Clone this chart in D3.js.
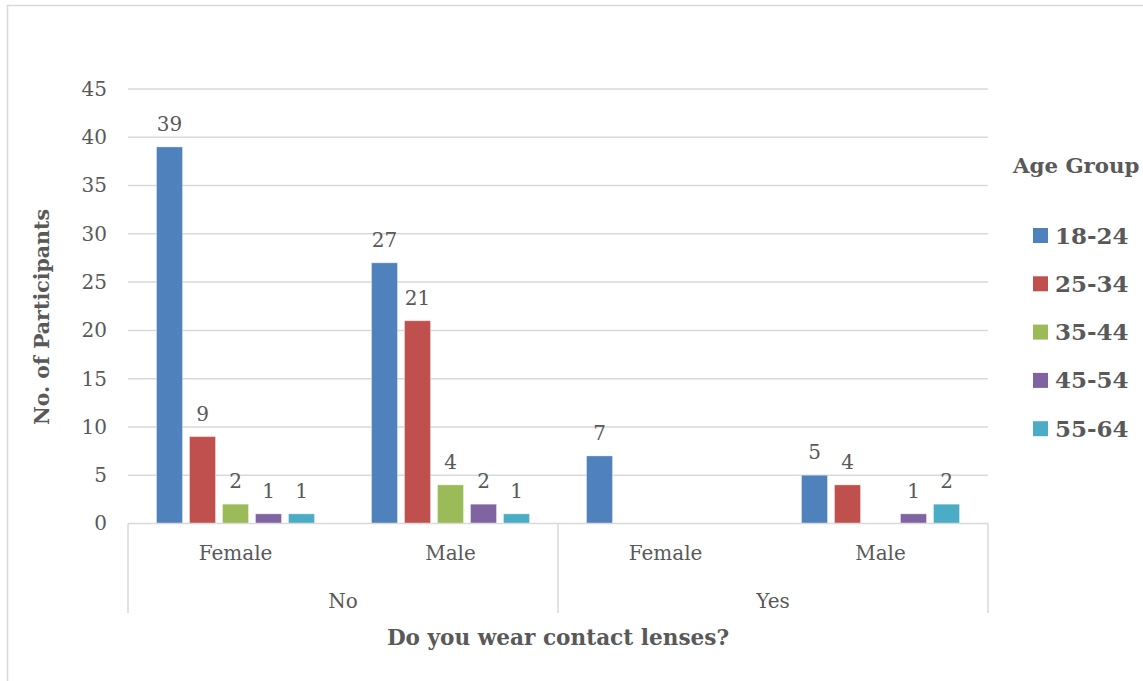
<!DOCTYPE html>
<html>
<head>
<meta charset="utf-8">
<script src="https://cdn.jsdelivr.net/npm/d3@7"></script>
<style>
  html, body { margin: 0; padding: 0; background: #fff; }
  svg { display: block; }
  text { font-family: "DejaVu Serif", serif; fill: #595959; }
</style>
</head>
<body>
<svg id="chart" width="1143" height="681"></svg>
<script>
// Contact lens survey: participants by answer, gender and age group
const answers = ["No", "Yes"];
const genders = ["Female", "Male"];
const ageGroups = ["18-24", "25-34", "35-44", "45-54", "55-64"];
const colors = ["#4f81bd", "#c0504d", "#9bbb59", "#8064a2", "#4bacc6"];
// counts per category (answer / gender), in ageGroups order; null = no bar
const noFemale  = [39, 9, 2, 1, 1];
const noMale    = [27, 21, 4, 2, 1];
const yesFemale = [7, null, null, null, null];
const yesMale   = [5, 4, null, 1, 2];
const yTicks = [0, 5, 10, 15, 20, 25, 30, 35, 40, 45];

const categories = [
  { answer: "No",  gender: "Female", values: noFemale },
  { answer: "No",  gender: "Male",   values: noMale },
  { answer: "Yes", gender: "Female", values: yesFemale },
  { answer: "Yes", gender: "Male",   values: yesMale }
];

const svg = d3.select("#chart");
const plotLeft = 128, plotRight = 988, plotTop = 89, plotBottom = 523.5;

// outer frame
svg.append("rect")
  .attr("x", 7.5).attr("y", 5.5).attr("width", 1160).attr("height", 700)
  .attr("fill", "none").attr("stroke", "#d9d9d9").attr("stroke-width", 1.5);

const y = d3.scaleLinear().domain([0, 45]).range([plotBottom, plotTop]);
const x0 = d3.scaleBand().domain(d3.range(categories.length)).range([plotLeft, plotRight]);
const step = 33, barW = 26;
const x1 = d3.scaleBand().domain(ageGroups)
  .range([(x0.bandwidth() - step * ageGroups.length) / 2, (x0.bandwidth() + step * ageGroups.length) / 2]);

// gridlines
svg.append("g").selectAll("line").data(yTicks.filter(t => t > 0)).join("line")
  .attr("x1", plotLeft).attr("x2", plotRight)
  .attr("y1", d => y(d)).attr("y2", d => y(d))
  .attr("stroke", "#d9d9d9").attr("stroke-width", 1.5);

// y axis labels
const yAxis = d3.axisLeft(y).tickValues(yTicks).tickSize(0).tickPadding(21);
const gy = svg.append("g").attr("transform", `translate(${plotLeft},0)`).call(yAxis);
gy.select(".domain").remove();
gy.selectAll("text").attr("font-size", 20).attr("fill", "#595959")
  .attr("font-family", "DejaVu Serif, serif");

// bars
const groups = svg.append("g").selectAll("g").data(categories).join("g")
  .attr("transform", (d, i) => `translate(${x0(i)},0)`);

groups.each(function (cat) {
  const g = d3.select(this);
  const items = cat.values.map((v, i) => ({ v, age: ageGroups[i], color: colors[i] }))
    .filter(d => d.v !== null);
  g.selectAll("rect").data(items).join("rect")
    .attr("x", d => x1(d.age) + (x1.bandwidth() - barW) / 2)
    .attr("width", barW)
    .attr("y", d => y(d.v))
    .attr("height", d => y(0) - y(d.v))
    .attr("fill", d => d.color)
    .attr("stroke", "#fff").attr("stroke-opacity", 0.35).attr("stroke-width", 1);
  g.selectAll("text").data(items).join("text")
    .attr("x", d => x1(d.age) + x1.bandwidth() / 2)
    .attr("y", d => y(d.v) - 16)
    .attr("text-anchor", "middle")
    .attr("font-size", 20).attr("fill", "#404040")
    .text(d => d.v);
});

// category axis: baseline and group separators
const axisColor = "#d9d9d9";
svg.append("line").attr("x1", plotLeft).attr("x2", plotRight).attr("y1", plotBottom).attr("y2", plotBottom)
  .attr("stroke", axisColor).attr("stroke-width", 1.5);
const sepX = [plotLeft, x0(2), plotRight];
svg.append("g").selectAll("line").data(sepX).join("line")
  .attr("x1", d => d).attr("x2", d => d).attr("y1", plotBottom).attr("y2", 613)
  .attr("stroke", axisColor).attr("stroke-width", 1.5);

svg.append("g").selectAll("text").data(categories).join("text")
  .attr("x", (d, i) => x0(i) + x0.bandwidth() / 2)
  .attr("y", 560)
  .attr("text-anchor", "middle").attr("font-size", 20)
  .text(d => d.gender);

svg.append("g").selectAll("text").data(answers).join("text")
  .attr("x", (d, i) => (x0(i * 2) + x0(i * 2 + 1) + x0.bandwidth()) / 2)
  .attr("y", 608)
  .attr("text-anchor", "middle").attr("font-size", 20)
  .text(d => d);

// axis titles
svg.append("text").attr("x", 558).attr("y", 645).attr("text-anchor", "middle")
  .attr("font-size", 21.6).attr("font-weight", "bold")
  .text("Do you wear contact lenses?");
svg.append("text").attr("transform", "translate(49,317) rotate(-90)")
  .attr("text-anchor", "middle").attr("font-size", 20.5).attr("font-weight", "bold")
  .text("No. of Participants");

// legend
const legend = svg.append("g");
legend.append("text").attr("x", 1013).attr("y", 173)
  .attr("font-size", 21.3).attr("font-weight", "bold").text("Age Group");
const li = legend.selectAll("g").data(ageGroups).join("g")
  .attr("transform", (d, i) => `translate(1033,${228 + i * 48.3})`);
li.append("rect").attr("width", 15).attr("height", 15).attr("fill", (d, i) => colors[i]);
li.append("text").attr("x", 22).attr("y", 15.5)
  .attr("font-size", 23).attr("font-weight", "bold").text(d => d);
</script>
</body>
</html>
